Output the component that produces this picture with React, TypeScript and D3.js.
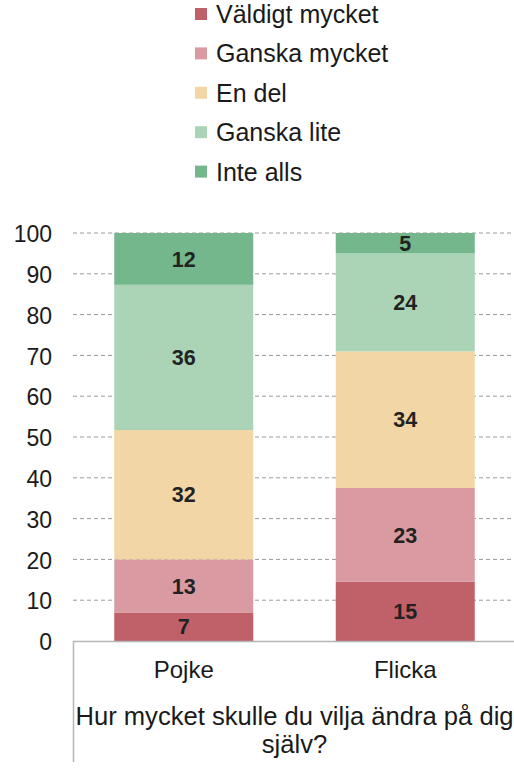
import React from "react";
import * as d3 from "d3";

const categories = ["Pojke", "Flicka"];
const seriesNames = ["Väldigt mycket", "Ganska mycket", "En del", "Ganska lite", "Inte alls"];
const seriesColors = ["#C0616A", "#D99BA1", "#F2D6A6", "#ABD4B7", "#74B78C"];
// values per category, in series order (bottom to top)
const pojkeValues = [7, 13, 31.7, 35.6, 12.7];
const flickaValues = [14.5, 23, 33.5, 24, 5];
const pojkeLabels = ["7", "13", "32", "36", "12"];
const flickaLabels = ["15", "23", "34", "24", "5"];
const yTicks = [0, 10, 20, 30, 40, 50, 60, 70, 80, 90, 100];
const axisTitleLines = ["Hur mycket skulle du vilja ändra på dig", "själv?"];

const W = 514;
const H = 772;
const FONT = "'Liberation Sans', Arial, sans-serif";

export default function App() {
  const plotLeft = 73;
  const plotRight = 516;
  const y = d3.scaleLinear().domain([0, 100]).range([641, 233]);
  const x = d3
    .scaleBand<string>()
    .domain(categories)
    .range([plotLeft, plotRight])
    .paddingInner(0.3725)
    .paddingOuter(0.3725 / 2);

  const rows = categories.map((c, i) => ({
    cat: c,
    values: i === 0 ? pojkeValues : flickaValues,
    labels: i === 0 ? pojkeLabels : flickaLabels,
  }));

  const legendY0 = 14;
  const legendStep = 39.4;

  return (
    <svg
      width={W}
      height={H}
      style={{ position: "absolute", left: 0, top: 0, background: "#fff" }}
      fontFamily={FONT}
    >
      {/* legend */}
      {seriesNames.map((name, i) => (
        <g key={name} transform={`translate(0, ${legendY0 + i * legendStep})`}>
          <rect x={195} y={-6} width={12} height={12} fill={seriesColors[i]} />
          <text x={216} y={0} dy="0.36em" fontSize={25} fill="#1a1a1a">
            {name}
          </text>
        </g>
      ))}

      {/* gridlines */}
      {yTicks
        .filter((t) => t !== 0)
        .map((t) => (
          <line
            key={t}
            x1={plotLeft}
            x2={W}
            y1={y(t)}
            y2={y(t)}
            stroke="#9a9a9a"
            strokeWidth={1}
            strokeDasharray="4,3"
          />
        ))}

      {/* y tick labels */}
      {yTicks.map((t) => (
        <text
          key={t}
          x={52}
          y={y(t)}
          dy="0.4em"
          textAnchor="end"
          fontSize={23}
          fill="#1a1a1a"
        >
          {t}
        </text>
      ))}

      {/* bars */}
      {rows.map((r) => {
        let cum = 0;
        return (
          <g key={r.cat}>
            {r.values.map((v, i) => {
              const y0 = cum;
              const y1 = cum + v;
              cum = y1;
              const top = y(y1);
              const bottom = y(y0);
              const bx = x(r.cat)!;
              return (
                <g key={i}>
                  <rect
                    x={bx}
                    y={top}
                    width={x.bandwidth()}
                    height={bottom - top}
                    fill={seriesColors[i]}
                  />
                  <text
                    x={bx + x.bandwidth() / 2}
                    y={(top + bottom) / 2}
                    dy="0.36em"
                    textAnchor="middle"
                    fontSize={21.5}
                    fontWeight="bold"
                    fill="#222"
                  >
                    {r.labels[i]}
                  </text>
                </g>
              );
            })}
          </g>
        );
      })}

      {/* baseline and category frame */}
      <line x1={plotLeft} x2={W} y1={y(0) + 0.5} y2={y(0) + 0.5} stroke="#b5b5b5" strokeWidth={1.5} />
      <line x1={plotLeft + 0.5} x2={plotLeft + 0.5} y1={y(0)} y2={762} stroke="#b5b5b5" strokeWidth={1.5} />

      {/* category labels */}
      {categories.map((c) => (
        <text
          key={c}
          x={x(c)! + x.bandwidth() / 2}
          y={678}
          textAnchor="middle"
          fontSize={24}
          fill="#1a1a1a"
        >
          {c}
        </text>
      ))}

      {/* axis title */}
      {axisTitleLines.map((line, i) => (
        <text
          key={i}
          x={294.5}
          y={725 + i * 28}
          textAnchor="middle"
          fontSize={25.6}
          fill="#1a1a1a"
        >
          {line}
        </text>
      ))}
    </svg>
  );
}
